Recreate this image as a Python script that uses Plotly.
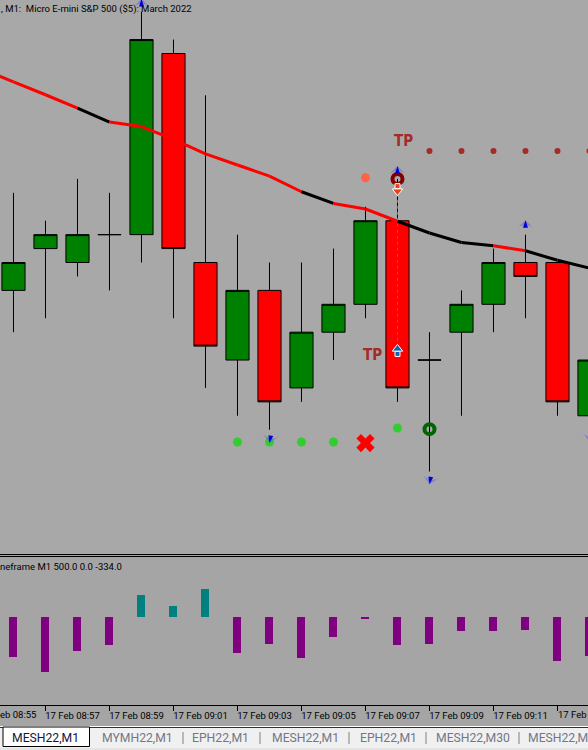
import plotly.graph_objects as go

# --- data -------------------------------------------------------------
DAY = "2022-02-17 "
candle_times = ["08:56","08:57","08:58","08:59","09:00","09:01","09:02","09:03","09:04","09:05",
                "09:06","09:07","09:08","09:09","09:10","09:11","09:12","09:13","09:14"]
opens  = [4401.25,4402.00,4401.75,4402.25,4402.25,4405.50,4401.75,4400.00,4401.25,4399.50,
          4400.50,4401.00,4402.50,4400.00,4400.50,4401.00,4401.75,4401.75,4399.00]
highs  = [4403.00,4402.50,4403.25,4403.00,4406.25,4405.75,4404.75,4402.25,4401.75,4401.75,
          4402.00,4402.75,4403.25,4400.50,4401.25,4402.00,4402.25,4401.75,4400.25]
lows   = [4400.50,4400.75,4401.50,4401.25,4401.75,4400.75,4399.50,4399.00,4398.75,4399.25,
          4400.00,4400.75,4399.25,4398.00,4399.00,4400.50,4400.75,4399.00,4398.75]
closes = [4401.75,4402.25,4402.25,4402.25,4405.75,4402.00,4400.25,4401.25,4399.25,4400.50,
          4401.00,4402.50,4399.50,4400.00,4401.00,4401.75,4401.50,4399.25,4400.00]

ma_times = ["08:55"] + candle_times
ma_values = [4405.23,4404.99,4404.76,4404.52,4404.27,4404.19,4403.96,4403.70,4403.50,4403.30,
             4403.02,4402.81,4402.71,4402.49,4402.28,4402.11,4402.05,4401.96,4401.79,4401.65]
ma_colors = ["red","red","red","black","red","red","red","red","red","red",
             "black","red","red","black","black","black","red","black","black"]

tp_dot_times = ["09:09","09:10","09:11","09:12","09:13","09:14"]
tp_dot_prices = [4403.75]*6
sl_dot_times = ["09:03","09:04","09:05","09:06","09:08"]
sl_dot_prices = [4398.53,4398.53,4398.53,4398.53,4398.78]
up_arrow_times = ["09:00","09:08","09:12"]
up_arrow_prices = [4406.48,4403.48,4402.51]
down_arrow_times = ["09:04","09:09","09:14"]
down_arrow_prices = [4398.51,4397.77,4398.53]

hist_values = [-342,-471,-291,-240,188,94,240,-308,-231,-351,-171,-17,-240,-231,-120,-120,-111,-377,-334]

tick_times = ["08:57","08:59","09:01","09:03","09:05","09:07","09:09","09:11","09:13"]
tick_texts = ["17 Feb 08:57","17 Feb 08:59","17 Feb 09:01","17 Feb 09:03","17 Feb 09:05",
              "17 Feb 09:07","17 Feb 09:09","17 Feb 09:11",""]
title_text = ", M1:  Micro E-mini S&amp;P 500 ($5): March 2022"
sub_title = "neframe M1 500.0 0.0 -334.0"
tab_labels = ["MESH22,M1","MYMH22,M1","EPH22,M1","MESH22,M1","EPH22,M1","MESH22,M30"]
tab_centers = [45,137,221,305,388,473]
tab_separators = [183,260,349,426,519]

# --- helpers ----------------------------------------------------------
W, H = 588, 750
T = lambda s: DAY + s
TS = lambda lst: [T(s) for s in lst]
px = lambda x: x / W
py = lambda y: 1 - y / H
UI = "Roboto"
UI_SIZE = 9.5
TAB_SIZE = 12.2
TAB_COLOR = "#707888"

BG_MAIN = "#A8A8A8"
BG_SUB = "#A5A5A5"
fig = go.Figure()

# candles
fig.add_trace(go.Candlestick(
    x=TS(candle_times), open=opens, high=highs, low=lows, close=closes,
    increasing=dict(fillcolor="#008000", line=dict(color="black", width=1)),
    decreasing=dict(fillcolor="#FF0000", line=dict(color="black", width=1)),
    whiskerwidth=0, showlegend=False, xaxis="x", yaxis="y"))

# moving average, coloured per segment
for i, c in enumerate(ma_colors):
    fig.add_trace(go.Scatter(x=TS(ma_times[i:i+2]), y=ma_values[i:i+2], mode="lines",
                             line=dict(color=c, width=3), showlegend=False))

# trade line
fig.add_trace(go.Scatter(x=TS(["09:08","09:08"]), y=[4403.09,4400.18], mode="lines",
                         line=dict(color="#E63C28", width=1, dash="3px,3px"), showlegend=False))

def mk(x, y, **m):
    fig.add_trace(go.Scatter(x=TS(x), y=y, mode="markers", marker=m, showlegend=False))

# dots
mk(tp_dot_times, tp_dot_prices, symbol="circle", size=6, color="#A52A2A", line=dict(width=0))
mk(sl_dot_times, sl_dot_prices, symbol="circle", size=9, color="#32CD32", line=dict(width=0))
mk(["09:07"], [4403.27], symbol="circle", size=9, color="#FF6347", line=dict(width=0))
mk(["09:07"], [4398.51], symbol="x", size=16, color="#FF0000", line=dict(width=0))
# rings
mk(["09:08"], [4403.25], symbol="circle-open", size=10, color="#800000", line=dict(color="#800000", width=4))
mk(["09:09"], [4398.76], symbol="circle-open", size=10, color="#006400", line=dict(color="#006400", width=4))
# blue arrows
mk(up_arrow_times, up_arrow_prices, symbol="arrow-wide", size=12, color="rgba(90,90,240,.5)", line=dict(width=0))
mk(up_arrow_times, up_arrow_prices, symbol="arrow", size=8, color="#0000E0", line=dict(width=0))
mk(down_arrow_times, down_arrow_prices, symbol="arrow-wide", size=12, angle=190, color="rgba(90,90,240,.5)", line=dict(width=0))
mk(down_arrow_times, down_arrow_prices, symbol="arrow", size=8, angle=190, color="#0000E0", line=dict(width=0))
# trade arrows
mk(["09:08"], [4403.12], symbol="square", size=5, color="#E8401C", line=dict(color="white", width=1))
mk(["09:08"], [4403.03], symbol="triangle-down", size=9, color="#E8401C", line=dict(color="white", width=1))
mk(["09:08"], [4400.11], symbol="square", size=5, color="#0A64B4", line=dict(color="white", width=1))
mk(["09:08"], [4400.20], symbol="triangle-up", size=9, color="#0A64B4", line=dict(color="white", width=1))

# histogram
fig.add_trace(go.Bar(x=TS(candle_times), y=hist_values, width=60000*0.25,
                     marker=dict(color=["#008080" if v > 0 else "#800080" for v in hist_values], line=dict(width=0)),
                     showlegend=False, xaxis="x", yaxis="y2"))

# --- chrome -----------------------------------------------------------
P = dict(xref="paper", yref="paper")
shapes = [
    dict(type="rect", **P, x0=0, x1=1, y0=py(557), y1=py(705), fillcolor=BG_SUB, line_width=0, layer="below"),
    dict(type="line", **P, x0=0, x1=1, y0=py(554.5), y1=py(554.5), line=dict(color="black", width=1)),
    dict(type="line", **P, x0=0, x1=1, y0=py(556.5), y1=py(556.5), line=dict(color="black", width=1)),
    dict(type="rect", **P, x0=0, x1=1, y0=py(726), y1=py(750), fillcolor="#F0F0F0", line_width=0),
    dict(type="line", **P, x0=0, x1=1, y0=py(726.5), y1=py(726.5), line=dict(color="white", width=1)),
    dict(type="line", **P, x0=0, x1=1, y0=py(727.5), y1=py(727.5), line=dict(color="#303030", width=1)),
    dict(type="rect", **P, x0=px(3), x1=px(89.5), y0=py(746.5), y1=py(727), fillcolor="white", line=dict(color="black", width=1)),
    dict(type="line", **P, x0=0, x1=1, y0=py(749), y1=py(749), line=dict(color="#D8D8D8", width=1)),
]
for s in tab_separators:
    shapes.append(dict(type="line", **P, x0=px(s), x1=px(s), y0=py(732), y1=py(744), line=dict(color="#808080", width=1)))

def label(x, y, text, color="black", size=UI_SIZE, anchor="left", family=UI):
    return dict(**P, x=px(x), y=py(y), text=text, showarrow=False, xanchor=anchor, yanchor="middle",
                font=dict(family=family, size=size, color=color), borderpad=0, borderwidth=0)

annotations = [
    label(1, 9, title_text),
    label(0, 566, sub_title),
    label(0, 714, "eb 08:55"),
    label(558, 714, "17 Feb"),
    label(528, 738, "MESH22,M", color=TAB_COLOR, size=TAB_SIZE),
]
TP_FONT = dict(family="DejaVu Sans Condensed", size=15, color="#A52A2A")
annotations.append(dict(x=T("09:08"), y=4403.93, xref="x", yref="y", text="<b>TP</b>", showarrow=False, font=TP_FONT, xshift=6))
annotations.append(dict(x=T("09:07"), y=4400.09, xref="x", yref="y", text="<b>TP</b>", showarrow=False, font=TP_FONT, xshift=7))
for i, (t, c) in enumerate(zip(tab_labels, tab_centers)):
    annotations.append(label(c, 738, t, color="#14143C" if i == 0 else TAB_COLOR, size=TAB_SIZE, anchor="center"))

fig.update_layout(
    template="none",
    width=W, height=H, margin=dict(l=0, r=0, t=0, b=0, pad=0),
    paper_bgcolor=BG_SUB, plot_bgcolor=BG_MAIN, showlegend=False, hovermode=False,
    bargap=0, boxgap=0.15, boxgroupgap=0.15, shapes=shapes, annotations=annotations,
    xaxis=dict(type="date", domain=[0, 1], anchor="y2", automargin=False,
               range=[T("08:55:34.7"), T("09:13:57.2")],
               rangeslider=dict(visible=False), showgrid=False, zeroline=False,
               showline=True, linecolor="black", linewidth=1,
               ticks="outside", ticklen=5, tickcolor="black", tickwidth=1,
               tickvals=TS(tick_times), ticktext=tick_texts,
               tickangle=0, ticklabelshift=27, ticklabelstandoff=-3, ticklabeloverflow="allow",
               tickfont=dict(family=UI, size=UI_SIZE, color="black")),
    yaxis=dict(domain=[py(554), 1], range=[4396.52, 4406.46], visible=False, anchor="x", automargin=False),
    yaxis2=dict(domain=[py(705), py(557)], range=[-753, 513.6], visible=False, anchor="x", automargin=False),
)

fig.write_html("out.html", config=dict(displayModeBar=False),
               post_script="document.body.style.margin='0';document.body.style.overflow='hidden';")
